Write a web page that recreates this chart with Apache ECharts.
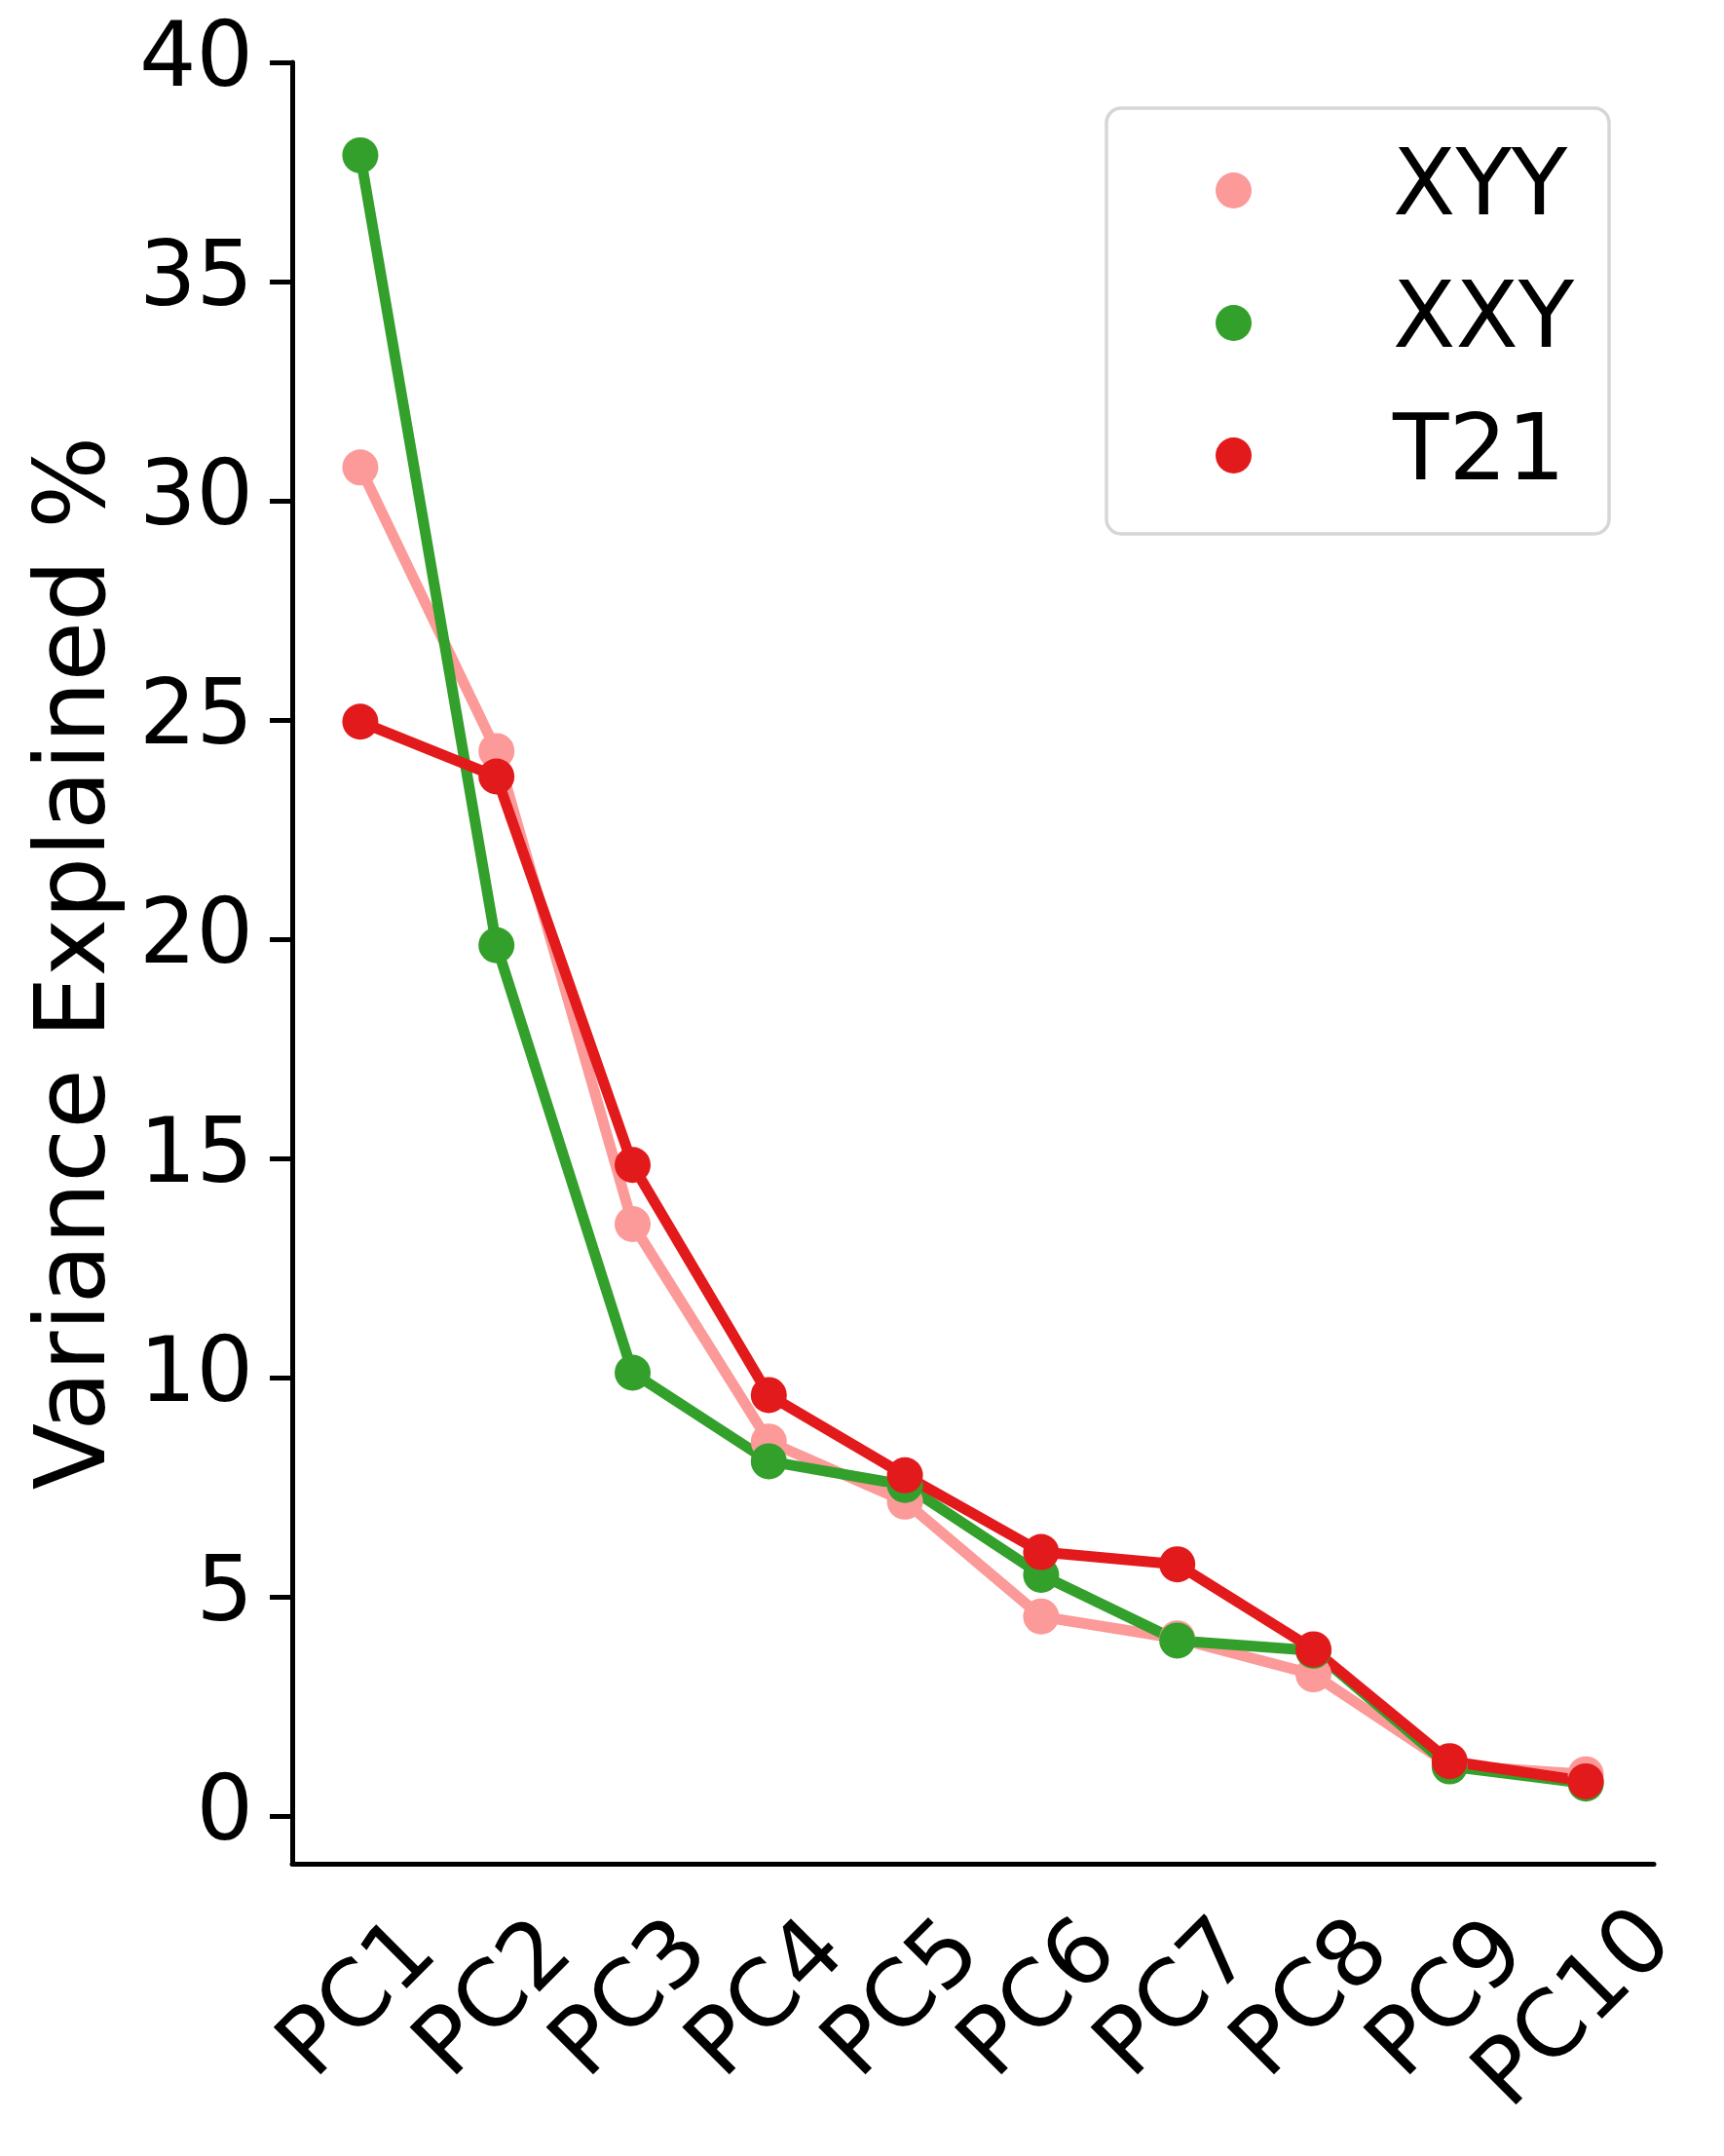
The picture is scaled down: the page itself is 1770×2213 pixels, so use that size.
<!DOCTYPE html>
<html>
<head>
<meta charset="utf-8">
<script src="https://cdn.jsdelivr.net/npm/echarts@6/dist/echarts.min.js"></script>
<style>
  html, body { margin: 0; padding: 0; background: #fff; }
  #chart { width: 1770px; height: 2213px; }
</style>
</head>
<body>
<div id="chart"></div>
<script>
// principal components on the x axis
var categories = ['PC1', 'PC2', 'PC3', 'PC4', 'PC5', 'PC6', 'PC7', 'PC8', 'PC9', 'PC10'];
// variance explained (%) per group
var xyyValues = [30.76, 24.29, 13.5, 8.54, 7.17, 4.55, 4.05, 3.23, 1.16, 0.95];
var xxyValues = [37.88, 19.86, 10.11, 8.09, 7.55, 5.5, 4.0, 3.77, 1.13, 0.74];
var t21Values = [24.96, 23.71, 14.85, 9.6, 7.77, 6.02, 5.74, 3.8, 1.25, 0.79];
var yTicks = [0, 5, 10, 15, 20, 25, 30, 35, 40];
var seriesNames = ['XYY', 'XXY', 'T21'];
var seriesColors = ['#fb9a99', '#33a02c', '#e31a1c'];

var FONT = 'DejaVu Sans';
var chart = echarts.init(document.getElementById('chart'));

// labels rotated about their centre like matplotlib; longer ones pushed down a bit
var xData = categories.map(function(c) {
  if (c.length > 3) {
    return {
      value: c,
      textStyle: { align: 'center', verticalAlign: 'middle', padding: [28, 28, 0, 0] }
    };
  }
  return c;
});

var makeLine = function(name, values, color) {
  return {
    name: name,
    type: 'line',
    data: values,
    symbol: 'circle',
    symbolSize: 37,
    showSymbol: true,
    itemStyle: { color: color },
    lineStyle: { color: color, width: 11 },
    emphasis: { disabled: true }
  };
};

var option = {
  animation: false,
  backgroundColor: '#fff',
  textStyle: { fontFamily: FONT },
  grid: { left: 300, right: 72, top: 64, bottom: 300, outerBoundsMode: 'none' },
  graphic: [{
    type: 'rect',
    z: 1,
    shape: { x: 1136, y: 111, width: 516, height: 437, r: 15 },
    style: { fill: '#fff', stroke: '#d6d6d6', lineWidth: 3.5 }
  }],
  legend: {
    data: seriesNames,
    orient: 'vertical',
    left: 1248,
    top: 136,
    padding: 0,
    icon: 'circle',
    itemWidth: 37,
    itemHeight: 37,
    itemGap: 17,
    selectedMode: false,
    textStyle: {
      fontFamily: FONT,
      fontSize: 94,
      color: '#000',
      lineHeight: 100,
      padding: [0, 0, 19, 140]
    }
  },
  xAxis: {
    type: 'category',
    data: xData,
    boundaryGap: true,
    axisLine: { onZero: false, lineStyle: { color: '#000', width: 5 } },
    axisTick: { alignWithLabel: true, interval: 0, length: 23, lineStyle: { color: '#000', width: 5 } },
    axisLabel: {
      interval: 0,
      rotate: 45,
      align: 'center',
      verticalAlign: 'middle',
      margin: 141,
      hideOverlap: false,
      fontFamily: FONT,
      fontSize: 94,
      color: '#000'
    },
    splitLine: { show: false }
  },
  yAxis: {
    type: 'value',
    min: -1.09,
    max: 40,
    name: 'Variance Explained %',
    nameLocation: 'middle',
    nameGap: 169,
    nameTextStyle: { fontFamily: FONT, fontSize: 100, color: '#000' },
    axisLine: { show: true, lineStyle: { color: '#000', width: 5 } },
    axisTick: { show: true, length: 23, customValues: yTicks, lineStyle: { color: '#000', width: 5 } },
    axisLabel: {
      customValues: yTicks,
      margin: 40,
      fontFamily: FONT,
      fontSize: 92,
      color: '#000'
    },
    splitLine: { show: false }
  },
  series: [
    makeLine(seriesNames[0], xyyValues, seriesColors[0]),
    makeLine(seriesNames[1], xxyValues, seriesColors[1]),
    makeLine(seriesNames[2], t21Values, seriesColors[2])
  ]
};

chart.setOption(option);
</script>
</body>
</html>
